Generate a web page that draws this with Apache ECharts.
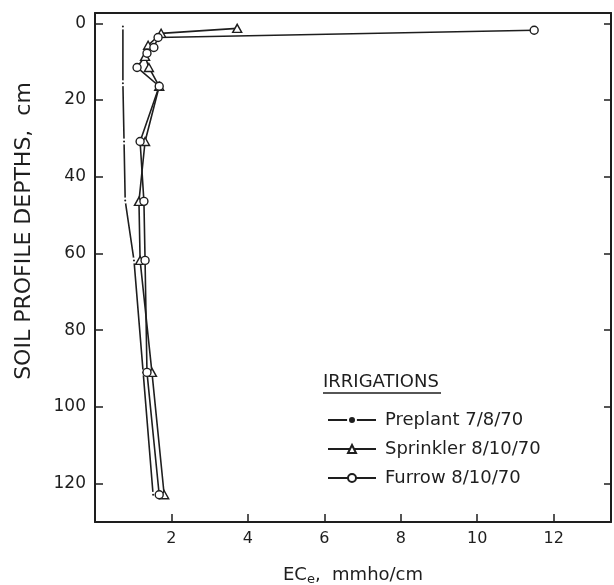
<!DOCTYPE html>
<html>
<head>
<meta charset="utf-8">
<script src="https://cdn.jsdelivr.net/npm/echarts@6/dist/echarts.min.js"></script>
<style>
html,body{margin:0;padding:0;background:#fff;}
#chart{width:614px;height:585px;}
</style>
</head>
<body>
<div id="chart"></div>
<script>
// ---- Data (EC_e in mmho/cm, depth in cm) ----
const preplantEC    = [0.73, 0.73, 0.76, 0.79, 1.02, 1.26, 1.52];
const preplantDepth = [0.8, 15.6, 30.8, 46.2, 61.8, 91.0, 122.9];

const sprinklerEC    = [3.72, 1.73, 1.39, 1.31, 1.41, 1.68, 1.31, 1.15, 1.18, 1.49, 1.81];
const sprinklerDepth = [1.3, 2.6, 5.7, 8.6, 11.5, 16.4, 30.8, 46.4, 61.8, 91.0, 122.9];

const furrowEC    = [11.49, 1.65, 1.54, 1.36, 1.10, 1.68, 1.18, 1.28, 1.31, 1.36, 1.68];
const furrowDepth = [1.8, 3.7, 6.3, 7.8, 11.5, 16.4, 30.8, 46.4, 61.8, 91.0, 122.9];

const seriesNames = ['Preplant 7/8/70', 'Sprinkler 8/10/70', 'Furrow 8/10/70'];
const xTicks = [2, 4, 6, 8, 10, 12];
const yTicks = [0, 20, 40, 60, 80, 100, 120];

function pairs(xs, ys) { return xs.map((x, i) => [x, ys[i]]); }

const FONT = 'DejaVu Sans';
const INK = '#1e1e1e';

const chart = echarts.init(document.getElementById('chart'), null, {renderer: 'canvas'});

const commonLine = {type: 'line', smooth: false, animation: false, z: 3};

chart.setOption({
  backgroundColor: '#ffffff',
  animation: false,
  grid: {left: 95, top: 13, right: 3, bottom: 63, containLabel: false, outerBoundsMode: 'none'},
  xAxis: [{
    type: 'value', min: 0, max: 13.5, interval: 2,
    position: 'bottom',
    axisLine: {show: true, onZero: false, lineStyle: {color: INK, width: 2}},
    axisTick: {show: true, inside: true, length: 8, customValues: xTicks, lineStyle: {color: INK, width: 1.5}},
    axisLabel: {
      color: INK, fontFamily: FONT, fontSize: 16, margin: 9,
      customValues: xTicks
    },
    splitLine: {show: false},
    name: 'EC{sub|e},  mmho/cm',
    nameLocation: 'middle', nameGap: 42,
    nameTextStyle: {
      color: INK, fontFamily: FONT, fontSize: 18,
      rich: {sub: {fontFamily: FONT, fontSize: 13, color: INK, verticalAlign: 'bottom', padding: [9, 0, 0, 0]}}
    }
  }, {
    type: 'value', min: 0, max: 13.5, interval: 2,
    position: 'top',
    axisLine: {show: true, onZero: false, lineStyle: {color: INK, width: 2}},
    axisTick: {show: false}, axisLabel: {show: false}, splitLine: {show: false}
  }],
  yAxis: [{
    type: 'value', min: -2.7, max: 130, inverse: true,
    position: 'left',
    axisLine: {show: true, onZero: false, lineStyle: {color: INK, width: 2}},
    axisTick: {show: true, inside: true, length: 8, customValues: yTicks, lineStyle: {color: INK, width: 1.5}},
    axisLabel: {
      color: INK, fontFamily: FONT, fontSize: 17, margin: 9,
      customValues: yTicks
    },
    splitLine: {show: false}
  }, {
    type: 'value', min: -2.7, max: 130, inverse: true,
    position: 'right',
    axisLine: {show: true, onZero: false, lineStyle: {color: INK, width: 2}},
    axisTick: {show: true, inside: true, length: 7, customValues: yTicks, lineStyle: {color: INK, width: 1.5}},
    axisLabel: {show: false}, splitLine: {show: false}
  }],
  legend: {
    orient: 'vertical', left: 322, top: 406,
    itemWidth: 48, itemHeight: 10, itemGap: 11,
    textStyle: {color: INK, fontFamily: FONT, fontSize: 18, lineHeight: 18, padding: [0, 0, 0, 4]},
    data: seriesNames
  },
  graphic: [
    {
      type: 'text', x: 24, y: 231, rotation: Math.PI / 2,
      style: {text: 'SOIL PROFILE DEPTHS,  cm', fill: INK, font: '22px "' + FONT + '"',
               textAlign: 'center', textVerticalAlign: 'middle'}
    },
    {
      type: 'text', x: 323, y: 373,
      style: {text: 'IRRIGATIONS', fill: INK, font: '18px "' + FONT + '"'}
    },
    {
      type: 'line', shape: {x1: 323, y1: 393, x2: 441, y2: 393},
      style: {stroke: INK, lineWidth: 1.5}
    }
  ],
  series: [
    Object.assign({}, commonLine, {
      name: seriesNames[0],
      data: pairs(preplantEC, preplantDepth),
      symbol: 'circle', symbolSize: 4,
      itemStyle: {color: INK, borderColor: '#fff', borderWidth: 2},
      lineStyle: {color: INK, width: 1.6}
    }),
    Object.assign({}, commonLine, {
      name: seriesNames[1],
      data: pairs(sprinklerEC, sprinklerDepth),
      symbol: 'triangle', symbolSize: [9, 8],
      itemStyle: {color: '#fff', borderColor: INK, borderWidth: 1.4},
      lineStyle: {color: INK, width: 1.6}
    }),
    Object.assign({}, commonLine, {
      name: seriesNames[2],
      data: pairs(furrowEC, furrowDepth),
      symbol: 'circle', symbolSize: 8,
      itemStyle: {color: '#fff', borderColor: INK, borderWidth: 1.4},
      lineStyle: {color: INK, width: 1.6}
    })
  ]
});
</script>
</body>
</html>
